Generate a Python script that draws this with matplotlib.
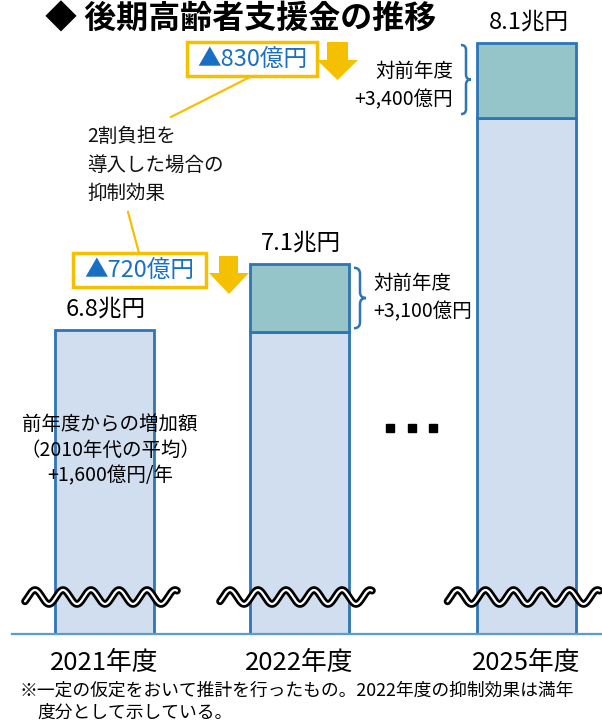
import matplotlib
matplotlib.use('Agg')
import matplotlib.pyplot as plt
import numpy as np
from matplotlib.patches import Rectangle, Polygon, PathPatch
from matplotlib.path import Path

plt.rcParams['font.family'] = ['Noto Sans CJK JP', 'DejaVu Sans']

# ---------------- data ----------------
years = ['2021年度', '2022年度', '2025年度']
totals = [6.8, 7.1, 8.1]                 # 兆円
increments = [0.0, 0.31, 0.34]           # 兆円 (対前年度)
total_labels = ['6.8兆円', '7.1兆円', '8.1兆円']
increment_labels = ['', '対前年度\n+3,100億円', '対前年度\n+3,400億円']
savings_labels = ['▲720億円', '▲830億円']
avg_note = ['前年度からの増加額', '（2010年代の平均）', '+1,600億円/年']
title = '◆ 後期高齢者支援金の推移'
note_lines = ['※一定の仮定をおいて推計を行ったもの。2022年度の抑制効果は満年',
              '度分として示している。']
effect_text = '2割負担を\n導入した場合の\n抑制効果'

base = [t - i for t, i in zip(totals, increments)]

# ---------------- layout ----------------
W, H = 602, 724
AXIS_PX = 634
K = 220.8          # px per 兆円 (broken axis)
REF_V, REF_PX = 8.1, 43
YBOT = REF_V - (AXIS_PX - REF_PX) / K
YTOP = REF_V + REF_PX / K
xpos = [104, 299, 526.5]
barw = 99

def px(v):
    return REF_PX + (REF_V - v) * K

BLUE_EDGE = '#2E75B6'
FILL = '#D0DEF0'
TEAL = '#95C4C9'
YELLOW = '#F5C000'
TXT_BLUE = '#1A6FC4'

fig = plt.figure(figsize=(W / 100, H / 100), dpi=100)
ax = fig.add_axes([0, (H - AXIS_PX) / H, 1, AXIS_PX / H])
ax.set_xlim(0, W)
ax.set_ylim(YBOT, YTOP)
ax.axis('off')

ax.bar(xpos, [b - YBOT for b in base], bottom=YBOT, width=barw,
       color=FILL, edgecolor=BLUE_EDGE, linewidth=2, zorder=2)
inc_x = [x for x, i in zip(xpos, increments) if i > 0]
inc_b = [b for b, i in zip(base, increments) if i > 0]
inc_h = [i for i in increments if i > 0]
ax.bar(inc_x, inc_h, bottom=inc_b, width=barw,
       color=TEAL, edgecolor=BLUE_EDGE, linewidth=2, zorder=2)

# overlay in pixel coordinates
ov = fig.add_axes([0, 0, 1, 1], zorder=5)
ov.set_xlim(0, W)
ov.set_ylim(H, 0)
ov.axis('off')

# baseline
ov.plot([12, W], [AXIS_PX, AXIS_PX], color='#5B9BD5', lw=1.6, zorder=1)

# title
ov.text(45, 20, title, fontsize=23, fontweight='bold', ha='left', va='center', color='black')

# total labels
for x, t, lab in zip(xpos, totals, total_labels):
    ov.text(x + 2, px(t) - 21, lab, fontsize=17, ha='center', va='center', color='black')

# year labels
for x, lab in zip(xpos, years):
    ov.text(x, 663, lab, fontsize=18.5, ha='center', va='center', color='black')

# wavy break lines
for x in xpos:
    xs = np.linspace(x - 79, x + 73, 400)
    ys = 597 - 7 * np.cos(2 * np.pi * (xs - (x - 69)) / 28)
    ov.plot(xs, ys, color='black', lw=5.5, solid_capstyle='round', zorder=6)
    ov.plot(xs, ys, color='white', lw=1.6, solid_capstyle='round', zorder=7)

# braces
def brace(x0, y0, y1, w, color=BLUE_EDGE):
    ym = (y0 + y1) / 2
    h = w / 2
    verts = [(x0, y0), (x0 + h, y0), (x0 + h, y0 + h),
             (x0 + h, ym - h),
             (x0 + h, ym), (x0 + w, ym),
             (x0 + h, ym), (x0 + h, ym + h),
             (x0 + h, y1 - h),
             (x0 + h, y1), (x0, y1)]
    codes = [Path.MOVETO, Path.CURVE3, Path.CURVE3,
             Path.LINETO,
             Path.CURVE3, Path.CURVE3,
             Path.CURVE3, Path.CURVE3,
             Path.LINETO,
             Path.CURVE3, Path.CURVE3]
    ov.add_patch(PathPatch(Path(verts, codes), fill=False, edgecolor=color, lw=1.8))

# 2022 brace & text
b22_top, b22_bot = px(totals[1]) + 4, px(base[1]) - 4
brace(354, b22_top, b22_bot, 12)
ov.text(373, (b22_top + b22_bot) / 2, increment_labels[1], fontsize=14, ha='left',
        va='center', linespacing=1.45, color='black')
# 2025 brace & text
b25_top, b25_bot = px(totals[2]) + 2, px(base[2]) - 4
brace(461, b25_top, b25_bot, 10)
ov.text(453, (b25_top + b25_bot) / 2 + 6, increment_labels[2], fontsize=14, ha='right',
        va='center', linespacing=1.45, color='black', multialignment='right')

# savings boxes
def box(x0, y0, x1, y1, label):
    ov.add_patch(Rectangle((x0, y0), x1 - x0, y1 - y0, facecolor='white',
                           edgecolor=YELLOW, lw=2.5, zorder=3))
    ov.text((x0 + x1) / 2, (y0 + y1) / 2 + 1, label, fontsize=17, color=TXT_BLUE,
            ha='center', va='center', zorder=4)

def down_arrow(sx0, sx1, hx0, hx1, ytop, yh, ytip):
    pts = [(sx0, ytop), (sx1, ytop), (sx1, yh), (hx1, yh), ((hx0 + hx1) / 2, ytip),
           (hx0, yh), (sx0, yh)]
    ov.add_patch(Polygon(pts, closed=True, facecolor=YELLOW, edgecolor='none', zorder=3))

box(187, 42, 317, 76, savings_labels[1])
down_arrow(327, 348, 317, 358, 42, 60, 80)
box(73, 253, 206, 287, savings_labels[0])
down_arrow(219, 238, 209, 249, 256, 273, 294)

# connector lines
ov.plot([250, 171], [77, 117], color=YELLOW, lw=1.6, zorder=2)
ov.plot([128, 139], [212, 253], color=YELLOW, lw=1.6, zorder=2)

ov.text(87, 165, effect_text, fontsize=14, ha='left', va='center',
        linespacing=1.45, color='#111111')

# average increase note (inside 2021 bar)
for i, line in enumerate(avg_note):
    ov.text(110, 424 + i * 26, line, fontsize=14, ha='center', va='center', color='black', zorder=8)

# ellipsis dots
ov.plot([390, 412, 433], [428, 428, 428], 's', color='black', ms=5.5)

# footnote
ov.text(19, 691, note_lines[0], fontsize=12.8, ha='left', va='center', color='black')
ov.text(37, 713, note_lines[1], fontsize=12.8, ha='left', va='center', color='black')

fig.savefig('out.png', dpi=100)
